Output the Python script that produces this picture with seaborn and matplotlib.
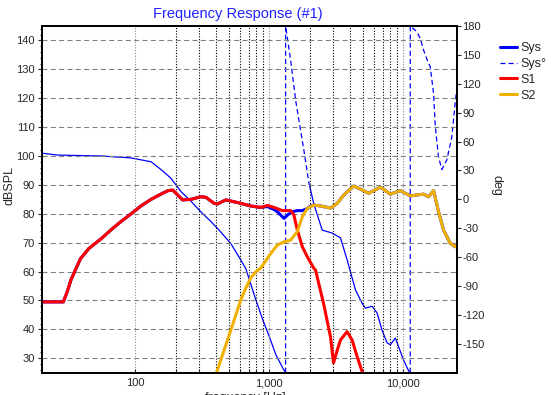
import numpy as np
import pandas as pd
import seaborn as sns
import matplotlib.pyplot as plt
from matplotlib.ticker import FixedLocator, FuncFormatter, NullFormatter, MultipleLocator
from matplotlib.lines import Line2D

# S1 branch magnitude (dBSPL)
s1_freq = [20, 29, 31, 33, 36, 39, 45, 56, 66, 78, 93, 110, 131, 155, 175, 190, 207, 225, 260, 308,
           336, 387, 410, 473, 577, 726, 862, 965, 1082, 1252, 1440, 1523, 1616, 1761, 1919, 2148, 2210,
           2535, 2858, 3009, 3170, 3390, 3800, 4145, 4520, 4925, 5100]
s1_db = [49.5, 49.5, 53, 57, 61, 64.5, 68, 71.5, 74.5, 77.3, 80, 82.7, 85, 86.8, 88, 88.2, 86.5, 84.8, 85,
         85.9, 85.7, 83.6, 83.4, 84.8, 83.9, 82.7, 82.2, 82.9, 82.2, 81.1, 81.1, 79.6, 74.4, 68.6, 65.1,
         61.1, 60.5, 49, 37.4, 28.4, 32, 36.3, 39.2, 36.3, 30.5, 25.3, 23]

# S2 branch magnitude (dBSPL)
s2_freq = [390, 434, 473, 516, 562, 612, 667, 727, 791, 862, 1024, 1148, 1286, 1440, 1615, 1761, 1919,
           2148, 2409, 2858, 3206, 3592, 4262, 4800, 5512, 6733, 7993, 9487, 11250, 14130, 15400, 16800,
           18290, 19920, 22340, 24330, 25000]
s2_db = [23, 29.4, 34.6, 39.8, 45, 50.2, 54.3, 57.8, 59.9, 61.2, 66.3, 69.2, 70.3, 70.9, 73.8, 79, 81.9,
         83, 82.7, 82, 83.6, 86.5, 89.6, 88.5, 87.1, 89.2, 86.8, 88, 86.2, 86.8, 85.9, 88, 80.7, 74.4, 69.8,
         68.6, 69.2]

# system sum magnitude (dBSPL)
sys_freq = [20, 29, 31, 33, 36, 39, 45, 56, 66, 78, 93, 110, 131, 155, 175, 190, 207, 225, 260, 308,
            336, 387, 410, 473, 577, 726, 862, 965, 1082, 1148, 1286, 1370, 1484, 1615, 1761, 1919, 2030,
            2148, 2409, 2858, 3206, 3592, 4262, 4800, 5512, 6733, 7993, 9487, 11250, 14130, 15400, 16800,
            18290, 19920, 22340, 24330, 25000]
sys_db = [49.5, 49.5, 53, 57, 61, 64.5, 68, 71.5, 74.5, 77.3, 80, 82.7, 85, 86.8, 88, 88.2, 86.5, 84.8,
          85, 85.9, 85.7, 83.6, 83.4, 84.8, 83.9, 82.7, 82.2, 82.5, 81.5, 80.7, 78.4, 79.6, 80.7, 81.1,
          81.1, 81.8, 82.7, 83, 82.7, 82, 83.6, 86.5, 89.6, 88.5, 87.1, 89.2, 86.8, 88, 86.2, 86.8, 85.9,
          88, 80.7, 74.4, 69.8, 68.6, 69.2]

# system phase (deg), wrapped at +-180
ph_freq = [20, 26, 56, 93, 131, 155, 184, 219, 260, 308, 366, 434, 516, 612, 667, 791, 892, 989, 1115,
           1257, 1321, 1321, 1439, 1570, 1661, 1809, 1972, 2148, 2479, 2942, 3393, 3806, 4387, 4922, 5208,
           5839, 6362, 6932, 7553, 7993, 8710, 9210, 10030, 10930, 11250, 11250, 12620, 13360, 14140,
           15400, 15850, 16320, 16790, 17270, 18280, 19370, 21100, 23000, 24330, 25000]
ph_deg = [48, 46, 45, 43, 39, 31, 22, 8, -2, -13, -23, -34, -46, -63, -72, -104, -125, -141, -161, -175,
          -180, 180, 145, 103, 82, 51, 17, -5, -32, -35, -40, -63, -94, -108, -113, -111, -118, -136,
          -149, -151, -144, -153, -167, -178, -180, 180, 174, 167, 155, 141, 138, 124, 110, 77, 44, 31,
          41, 65, 100, 114]

BLUE = '#0000ff'
RED = '#ff0000'
ORANGE = '#f0b000'
PHASE_DASH = (0, (4, 2.5))

sns.set_style('ticks')
plt.rcParams['font.family'] = ['Liberation Sans', 'DejaVu Sans']
plt.rcParams['axes.unicode_minus'] = False

fig = plt.figure(figsize=(5.51, 3.95), dpi=100)
ax = fig.add_axes([0.0757, 0.0565, 0.7532, 0.8777])
ax2 = ax.twinx()
ax.set_zorder(2)
ax2.set_zorder(1)
ax.patch.set_visible(False)

ax.set_xscale('log')
ax.set_xlim(20, 25000)
ax.set_ylim(25, 145)
ax2.set_ylim(-180, 180)

# phase: gentle parts solid, steep parts (and the last wrapped part) dashed
phase_df = pd.DataFrame({'freq': ph_freq, 'deg': ph_deg})
pts = ax2.transData.transform(phase_df[['freq', 'deg']].to_numpy())
dx = np.abs(np.diff(pts[:, 0]))
dy = np.abs(np.diff(pts[:, 1]))
dashed = dy > 4.5 * dx
wraps = np.where(np.abs(np.diff(ph_deg)) > 300)[0]
dashed[wraps[-1]:] = True
runs = []
start = 0
for i in range(1, len(dashed) + 1):
    if i == len(dashed) or dashed[i] != dashed[start]:
        runs.append((start, i, dashed[start]))
        start = i
for a, b, d in runs:
    part = phase_df.iloc[a:b + 1]
    sns.lineplot(data=part, x='freq', y='deg', ax=ax2, estimator=None, sort=False,
                 color=BLUE, lw=0.9, linestyle=PHASE_DASH if d else '-')

sys_df = pd.DataFrame({'freq': sys_freq, 'db': sys_db})
s1_df = pd.DataFrame({'freq': s1_freq, 'db': s1_db})
s2_df = pd.DataFrame({'freq': s2_freq, 'db': s2_db})
sns.lineplot(data=sys_df, x='freq', y='db', ax=ax, color=BLUE, lw=2.2, estimator=None, sort=False)
sns.lineplot(data=s1_df, x='freq', y='db', ax=ax, color=RED, lw=2.2, estimator=None, sort=False)
sns.lineplot(data=s2_df, x='freq', y='db', ax=ax, color=ORANGE, lw=2.2, estimator=None, sort=False)

ax.set_xlim(20, 25000)
ax.set_ylim(25, 145)
ax2.set_ylim(-180, 180)

# axes / ticks
ax.xaxis.set_major_locator(FixedLocator([100, 1000, 10000]))
ax.xaxis.set_major_formatter(FuncFormatter(lambda v, p: '{:,.0f}'.format(v)))
ax.xaxis.set_minor_locator(FixedLocator([200, 300, 400, 500, 600, 700, 800, 900,
                                         2000, 3000, 4000, 5000, 6000, 7000, 8000, 9000]))
ax.xaxis.set_minor_formatter(NullFormatter())
ax.yaxis.set_major_locator(MultipleLocator(10))
ax.yaxis.set_minor_locator(MultipleLocator(2))
ax2.yaxis.set_major_locator(FixedLocator(list(range(-150, 181, 30))))

ax.tick_params(axis='x', which='both', direction='in', length=3, width=0.8, labelsize=8, pad=4)
ax.tick_params(axis='y', which='major', direction='out', length=3, width=0.8, labelsize=8, pad=2)
ax.tick_params(axis='y', which='minor', direction='out', length=1.6, width=0.8)
ax2.tick_params(axis='y', which='major', direction='out', length=3, width=0.8, labelsize=8, pad=1)

ax.yaxis.grid(True, which='major', color='#808080', ls=(0, (4.5, 3)), lw=0.8)
ax.xaxis.grid(True, which='major', color='#8c8c8c', ls=(0, (1, 1.5)), lw=0.8)
ax.xaxis.grid(True, which='minor', color='black', ls=(0, (1, 1.5)), lw=0.8)
ax2.grid(False)

for a_ in (ax, ax2):
    for sp in a_.spines.values():
        sp.set_linewidth(1.3)
        sp.set_color('black')

ax.set_xlabel('')
ax2.set_xlabel('')
ax.set_ylabel('dBSPL', fontsize=9)
ax.yaxis.set_label_coords(-0.063, 0.54)
ax2.set_ylabel('deg', fontsize=9, rotation=270, va='center', ha='center')
ax2.yaxis.set_label_coords(1.097, 0.54)

fig.text(0.432, 0.965, 'Frequency Response (#1)', color='#2020ff', fontsize=10.5,
         ha='center', va='center')
# axis title sits mostly below the bottom edge, as in the original export
fig.text(0.446, 0.008, 'frequency [Hz]', fontsize=9, ha='center', va='top')

handles = [Line2D([], [], color=BLUE, lw=2.2),
           Line2D([], [], color=BLUE, lw=0.9, ls=PHASE_DASH),
           Line2D([], [], color=RED, lw=2.2),
           Line2D([], [], color=ORANGE, lw=2.2)]
fig.legend(handles, ['Sys', 'Sys°', 'S1', 'S2'], loc='upper left', bbox_to_anchor=(0.908, 0.893),
           frameon=False, fontsize=9, handlelength=1.3, handletextpad=0.3, labelspacing=0.3,
           borderpad=0, borderaxespad=0)

fig.savefig('out.png', dpi=100)
